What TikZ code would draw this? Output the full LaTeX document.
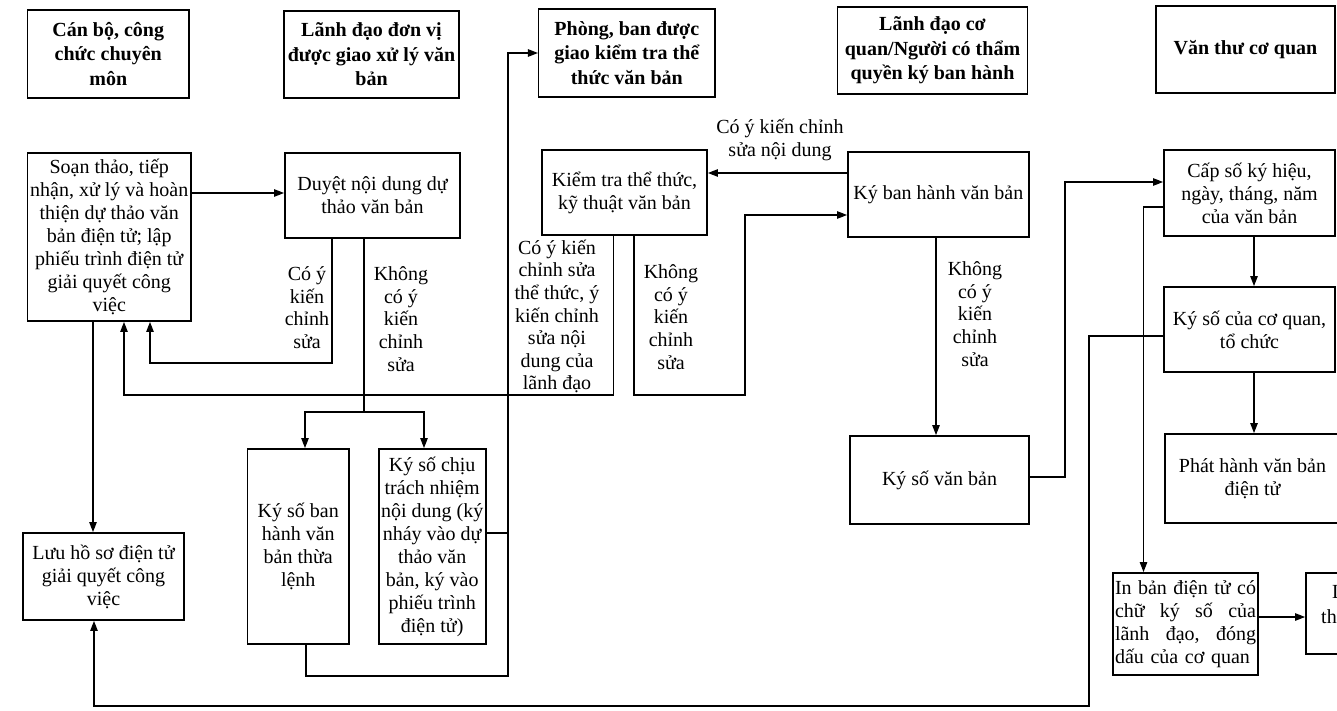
\documentclass[tikz,border=0pt]{standalone}
\usepackage{fontspec}
\setmainfont{Liberation Serif}
\usetikzlibrary{arrows.meta}
\newcommand{\jline}[1]{\leavevmode\hbox to 141pt{#1}}
\begin{document}
\begin{tikzpicture}[x=1pt,y=-1pt,
  hdr/.style={draw, line width=1.3pt, inner sep=2pt, align=center, font=\bfseries\fontsize{20}{24.5}\selectfont},
  box/.style={draw, line width=1.9pt, inner sep=2pt, align=center, font=\fontsize{20}{23}\selectfont},
  lbl/.style={inner sep=0pt, align=center, font=\fontsize{20}{22.6}\selectfont},
  conn/.style={line width=1.1pt},
  arr/.style={line width=1.1pt, -{Triangle[length=10pt,width=7.5pt]}}
]
\useasboundingbox (0,0) rectangle (1337,711);

% headers
\node[hdr, minimum width=161.5pt, minimum height=88pt] (h1) at (108.25,54) {Cán bộ, công\\chức chuyên\\môn};
\node[hdr, minimum width=175pt, minimum height=87pt] (h2) at (371.5,54.5) {Lãnh đạo đơn vị\\được giao xử lý văn\\bản};
\node[hdr, minimum width=176.4pt, minimum height=88pt] (h3) at (626.8,53) {Phòng, ban được\\giao kiểm tra thể\\thức văn bản};
\node[hdr, minimum width=190pt, minimum height=87pt] (h4) at (932.5,50.5) {Lãnh đạo cơ\\quan/Người có thẩm\\quyền ký ban hành};
\node[hdr, minimum width=179pt, minimum height=87pt] (h5) at (1245.5,49.5) {Văn thư cơ quan};

% process boxes
\node[box, minimum width=163.5pt, minimum height=168pt] (soan) at (109.25,237) {Soạn thảo, tiếp\\nhận, xử lý và hoàn\\thiện dự thảo văn\\bản điện tử; lập\\phiếu trình điện tử\\giải quyết công\\việc};
\node[box, minimum width=175pt, minimum height=85pt] (duyet) at (372.5,195.5) {Duyệt nội dung dự\\thảo văn bản};
\node[box, minimum width=165pt, minimum height=85pt] (kiemtra) at (624.5,192.5) {Kiểm tra thể thức,\\kỹ thuật văn bản};
\node[box, minimum width=180.6pt, minimum height=85pt] (kyban) at (938.3,194.5) {Ký ban hành văn bản};
\node[box, minimum width=171pt, minimum height=86pt] (capso) at (1249.5,193) {Cấp số ký hiệu,\\ngày, tháng, năm\\của văn bản};
\node[box, minimum width=171pt, minimum height=85pt] (kysocq) at (1249.5,329.5) {Ký số của cơ quan,\\tổ chức};
\node[box, minimum width=175pt, minimum height=89pt] (phathanh) at (1252.5,478.5) {Phát hành văn bản\\điện tử};
\node[box, minimum width=145pt, minimum height=102pt, align=left, text width=141pt, inner xsep=1pt] (inban) at (1185.5,624) {\jline{In\hfill bản\hfill điện\hfill tử\hfill có}\\\jline{chữ\hfill ký\hfill số\hfill của}\\\jline{lãnh\hfill đạo,\hfill đóng}\\dấu của cơ quan};
\node[box, minimum width=114pt, minimum height=81pt] (rbox) at (1363,613.5) {};
\node[lbl, anchor=west] (rt1) at (1332,592) {Lưu};
\node[lbl, anchor=west] (rt2) at (1321,617) {thư};
\node[box, minimum width=161pt, minimum height=87pt] (luu) at (103.5,576.5) {Lưu hồ sơ điện tử\\giải quyết công\\việc};
\node[box, minimum width=101.5pt, minimum height=195pt] (kysobh) at (298.25,546.5) {Ký số ban\\hành văn\\bản thừa\\lệnh};
\node[box, minimum width=107.1pt, minimum height=195pt] (kysochiu) at (432.15,546.5) {Ký số chịu\\trách nhiệm\\nội dung (ký\\nháy vào dự\\thảo văn\\bản, ký vào\\phiếu trình\\điện tử)};
\node[box, minimum width=179pt, minimum height=88pt] (kysovb) at (939.5,480) {Ký số văn bản};

% connector labels
\node[lbl] (l1) at (307,307.5) {Có ý\\kiến\\chỉnh\\sửa};
\node[lbl] (l2) at (401,319) {Không\\có ý\\kiến\\chỉnh\\sửa};
\node[lbl] (l3) at (557,316.5) {Có ý kiến\\chỉnh sửa\\thể thức, ý\\kiến chỉnh\\sửa nội\\dung của\\lãnh đạo};
\node[lbl] (l4) at (671,317) {Không\\có ý\\kiến\\chỉnh\\sửa};
\node[lbl] (l5) at (780,140) {Có ý kiến chỉnh\\sửa nội dung};
\node[lbl] (l6) at (975,314) {Không\\có ý\\kiến\\chỉnh\\sửa};

% bend coordinates
\coordinate (o1) at (0,193);
\coordinate (b1) at (332,363);
\coordinate (b1l) at (150,363);
\coordinate (br) at (364,412);
\coordinate (a305) at (305,412);
\coordinate (a424) at (424,412);
\coordinate (p306) at (306,676);
\coordinate (v508b) at (508,676);
\coordinate (v508t) at (508,53);
\coordinate (j533) at (508,533);
\coordinate (q1) at (613.6,395);
\coordinate (q2) at (124,395);
\coordinate (r1) at (634,395);
\coordinate (r2) at (745,395);
\coordinate (r3) at (745,215);
\coordinate (s1) at (0,173);
\coordinate (t1) at (936,0);
\coordinate (u1) at (1065,477);
\coordinate (u2) at (1065,182);
\coordinate (w1) at (1143.5,207);
\coordinate (m1) at (1254,0);
\coordinate (z1) at (1089,336);
\coordinate (z2) at (1089,706);
\coordinate (z3) at (94,706);
\coordinate (y1) at (93,0);
\coordinate (n1) at (0,617);

% connectors
\draw[arr] (soan.east |- o1) -- (duyet.west |- o1);
\draw[arr] (duyet.south -| b1) -- (b1) -- (b1l) -- (soan.south -| b1l);
\draw[conn] (duyet.south -| br) -- (br);
\draw[arr] (br) -- (a305) -- (kysobh.north -| a305);
\draw[arr] (br) -- (a424) -- (kysochiu.north -| a424);
\draw[arr] (kysobh.south -| p306) -- (p306) -- (v508b) -- (v508t) -- (h3.west |- v508t);
\draw[conn] (kysochiu.east |- j533) -- (j533);
\draw[arr] (kiemtra.south -| q1) -- (q1) -- (q2) -- (soan.south -| q2);
\draw[arr] (kiemtra.south -| r1) -- (r1) -- (r2) -- (r3) -- (kyban.west |- r3);
\draw[arr] (kyban.west |- s1) -- (kiemtra.east |- s1);
\draw[arr] (kyban.south -| t1) -- (kysovb.north -| t1);
\draw[arr] (kysovb.east |- u1) -- (u1) -- (u2) -- (capso.west |- u2);
\draw[arr] (capso.west |- w1) -- (w1) -- (inban.north -| w1);
\draw[arr] (capso.south -| m1) -- (kysocq.north -| m1);
\draw[arr] (kysocq.south -| m1) -- (phathanh.north -| m1);
\draw[arr] (kysocq.west |- z1) -- (z1) -- (z2) -- (z3) -- (luu.south -| z3);
\draw[arr] (soan.south -| y1) -- (luu.north -| y1);
\draw[arr] (inban.east |- n1) -- (rbox.west |- n1);
\end{tikzpicture}
\end{document}
